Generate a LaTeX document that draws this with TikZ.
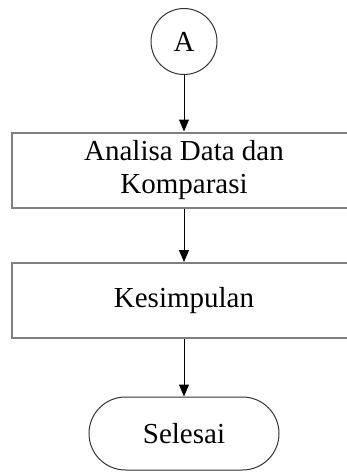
\documentclass[tikz,border=0pt]{standalone}
\usepackage{fontspec}
\setmainfont{Liberation Serif}
\usepackage{tikz}
\usetikzlibrary{shapes}
\usetikzlibrary{arrows.meta}
\tikzset{ proc_box/.style = {rectangle, draw=gray, line width=2pt, minimum width=344pt, minimum height=75pt, inner sep=0pt, align=center} }
\tikzset{ conn_circ/.style = {circle, draw=black!80, line width=1pt, minimum size=66pt, inner sep=0pt} }
\tikzset{ term_box/.style = {rounded rectangle, draw=black!80, line width=1pt, minimum width=190pt, minimum height=73pt, inner sep=0pt} }
\tikzset{ flow/.style = {-{Triangle[length=12pt,width=10pt]}, line width=1pt} }

\begin{document}
\begin{tikzpicture}[x=1pt,y=-1pt,font=\fontsize{29}{33}\selectfont]
            \useasboundingbox (0,0) rectangle (347,472);
            \clip (0,0) rectangle (347,472);
            \node [style=conn_circ] (0) at (184,41.5) {A};
            \node [style=proc_box] (1) at (184,170) {Analisa Data dan\\Komparasi};
            \node [style=proc_box] (2) at (184,300.5) {Kesimpulan};
            \node [style=term_box] (3) at (184,433.5) {Selesai};
            \draw [style=flow] (0) to (1);
            \draw [style=flow] (1) to (2);
            \draw [style=flow] (2) to (3);
    \end{tikzpicture}
\end{document}
